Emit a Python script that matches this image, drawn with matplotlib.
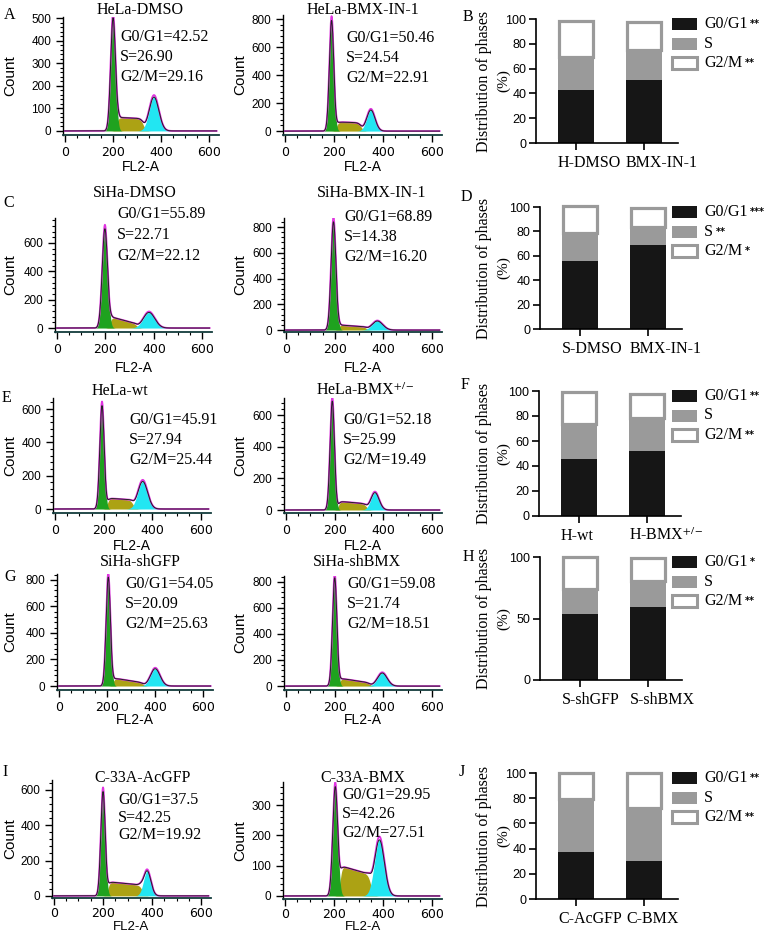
import numpy as np
import matplotlib
matplotlib.use('Agg')
import matplotlib.pyplot as plt
import matplotlib.transforms as mtransforms
from matplotlib.patches import Rectangle
from matplotlib.ticker import MultipleLocator, AutoMinorLocator

plt.rcParams['font.family'] = ['Liberation Sans', 'DejaVu Sans']
plt.rcParams['mathtext.fontset'] = 'stix'
SERIF = ['Liberation Serif', 'DejaVu Serif']

W, H = 778, 934

# --- data ---
samples = ['HeLa-DMSO', 'HeLa-BMX-IN-1', 'SiHa-DMSO', 'SiHa-BMX-IN-1',
           'HeLa-wt', r'HeLa-BMX$^{\mathrm{+/-}}$', 'SiHa-shGFP', 'SiHa-shBMX',
           'C-33A-AcGFP', 'C-33A-BMX']
g1_pct = ['42.52', '50.46', '55.89', '68.89', '45.91', '52.18', '54.05', '59.08', '37.5', '29.95']
s_pct = ['26.90', '24.54', '22.71', '14.38', '27.94', '25.99', '20.09', '21.74', '42.25', '42.26']
g2_pct = ['29.16', '22.91', '22.12', '16.20', '25.44', '19.49', '25.63', '18.51', '19.92', '27.51']

# peak fits (FL2-A channel, counts) estimated from the histograms
g1_mu = [200, 190, 198, 195, 193, 190, 205, 200, 200, 205]
g1_h = [500, 790, 700, 840, 620, 690, 820, 830, 590, 360]
g1_sd = [10, 9, 11, 10, 9, 9, 9, 9, 9, 10]
s_lo = [215, 210, 220, 215, 215, 215, 225, 220, 220, 225]
s_hi = [325, 310, 330, 330, 320, 330, 350, 345, 360, 350]
s_h0 = [60, 65, 80, 40, 65, 55, 60, 60, 80, 100]
s_h1 = [55, 60, 30, 25, 55, 40, 25, 25, 60, 70]
g2_mu = [370, 350, 380, 375, 360, 365, 400, 395, 380, 385]
g2_h = [150, 150, 110, 70, 165, 110, 130, 100, 140, 185]
g2_sd = [20, 17, 24, 22, 20, 17, 20, 20, 15, 20]

bar_labels = [['H-DMSO', 'BMX-IN-1'], ['S-DMSO', 'BMX-IN-1'], ['H-wt', r'H-BMX$^{\mathrm{+/-}}$'],
              ['S-shGFP', 'S-shBMX'], ['C-AcGFP', 'C-BMX']]
sig_g1 = ['**', '***', '**', '*', '**']
sig_s = ['', '**', '', '', '']
sig_g2 = ['**', '*', '**', '**', '**']

GREEN = '#1fa21f'
OLIVE = '#aca214'
CYAN = '#22e6f2'
MAGENTA = '#e033e0'

fig = plt.figure(figsize=(W / 100, H / 100), dpi=100)


def add_ax(l, r, t, b):
    return fig.add_axes([l / W, 1 - b / H, (r - l) / W, (b - t) / H])


def ftext(x, y, s, **kw):
    return fig.text(x / W, 1 - y / H, s, **kw)


# hist layout: box(l, r, t, b), ylim, ystep, text(x, y, dy), title(x, y)
hist_box = [(63, 219, 17, 135), (283, 442, 15, 135), (55, 212, 218, 332), (284, 442, 218, 332),
            (53, 211, 398, 513), (284, 442, 398, 513), (57, 213, 574, 690), (284, 442, 576, 690),
            (52, 211, 780, 898), (283, 442, 782, 899)]
hist_ylim = [(-18, 505), (-28, 830), (-28, 776), (-15, 870), (-24, 666), (-19, 710),
             (-30, 844), (-30, 844), (-12, 656), (-10, 376)]
hist_ystep = [100, 200, 200, 200, 200, 200, 200, 200, 200, 100]
xlab_off = [32, 32, 36, 36, 33, 33, 30, 30, 29, 28]
xtick_pad = [3, 3, 3, 3, 3, 3, 3, 3, 1.5, 1.5]
txt_pos = [(120, 37, 20), (346, 38, 20), (117, 214, 21), (344, 217, 20), (129, 420, 20),
           (343, 420, 20), (125, 584, 20), (347, 584, 20), (118, 800, 17.5), (342, 795, 19)]
title_pos = [(140, 10), (363, 10), (135, 193), (372, 193), (120, 391), (365, 391),
             (140, 562), (357, 562), (143, 778), (363, 778)]

x = np.linspace(0, 630, 1400)
for i in range(10):
    l, r, t, b = hist_box[i]
    ax = add_ax(l, r, t, b)
    g1 = g1_h[i] * np.exp(-0.5 * ((x - g1_mu[i]) / g1_sd[i]) ** 2)
    ramp = s_h0[i] + (s_h1[i] - s_h0[i]) * np.clip((x - s_lo[i]) / (s_hi[i] - s_lo[i]), 0, 1)
    s = ramp * 0.25 * (1 + np.tanh((x - s_lo[i]) / 8)) * (1 - np.tanh((x - s_hi[i]) / 12))
    g2 = g2_h[i] * np.exp(-0.5 * ((x - g2_mu[i]) / g2_sd[i]) ** 2)
    total = g1 + s + g2
    ax.fill_between(x, 0, s, color=OLIVE, lw=0)
    ax.fill_between(x, 0, g2, color=CYAN, lw=0)
    ax.fill_between(x, 0, g1, color=GREEN, lw=0)
    ax.plot(x, total + 0.04 * g1 + 0.06 * g2, color=MAGENTA, lw=1.3)
    ax.plot(x, total, color='#222222', lw=0.7)
    ax.set_xlim(-8, 640)
    ax.set_ylim(*hist_ylim[i])
    for sp in ['top', 'right']:
        ax.spines[sp].set_visible(False)
    ax.spines['left'].set_linewidth(1.0)
    ax.spines['bottom'].set_linewidth(1.3)
    ax.spines['bottom'].set_color('#123c3c')
    ax.set_xticks([0, 200, 400, 600])
    ax.xaxis.set_minor_locator(MultipleLocator(50))
    ax.yaxis.set_major_locator(MultipleLocator(hist_ystep[i]))
    ax.yaxis.set_minor_locator(AutoMinorLocator(5))
    ax.tick_params(axis='both', which='major', length=5, width=1, labelsize=8.5, direction='out')
    ax.tick_params(axis='both', which='minor', length=2.5, width=0.8, direction='out')
    ax.tick_params(axis='x', pad=xtick_pad[i])
    for lab in ax.get_xticklabels():
        lab.set_family(['DejaVu Sans'])
        lab.set_fontsize(9)
    ax.set_yticks([v for v in ax.get_yticks() if v >= 0 and v <= hist_ylim[i][1]])
    ax.set_xlabel('FL2-A', fontsize=10 if i < 8 else 9.5)
    ax.xaxis.set_label_coords(0.5, -xlab_off[i] / (b - t))
    ax.xaxis.label.set_va('center')
    ax.set_ylabel('Count', fontsize=11)
    cx = 10 if i % 2 == 0 else 240
    ax.yaxis.set_label_coords((cx - l) / (r - l), 0.5)
    ax.yaxis.label.set_rotation_mode('default')
    ax.yaxis.label.set_va('center')
    tx, ty, dy = txt_pos[i]
    for k, s_txt in enumerate(['G0/G1=' + g1_pct[i], 'S=' + s_pct[i], 'G2/M=' + g2_pct[i]]):
        ftext(tx, ty + k * dy, s_txt, family=SERIF, fontsize=11.5, ha='left', va='center')
    ftext(title_pos[i][0], title_pos[i][1], samples[i], family=SERIF, fontsize=11.5,
          ha='center', va='center')

# bar panels
bar_box = [(536, 678, 19, 143), (540, 682, 207, 329), (539, 681, 391, 516),
           (540, 682, 557, 680), (536, 678, 773, 899)]
bar_yticks = [[0, 20, 40, 60, 80, 100]] * 3 + [[0, 50, 100]] + [[0, 20, 40, 60, 80, 100]]
for j in range(5):
    l, r, t, b = bar_box[j]
    ax = add_ax(l, r, t, b)
    pos = np.array([0, 1])
    v1 = np.array([float(g1_pct[2 * j]), float(g1_pct[2 * j + 1])])
    v2 = np.array([float(s_pct[2 * j]), float(s_pct[2 * j + 1])])
    v3 = np.array([float(g2_pct[2 * j]), float(g2_pct[2 * j + 1])])
    wd = 0.53
    ax.bar(pos, v1, width=wd, color='#161616', lw=0)
    ax.bar(pos, v2, bottom=v1, width=wd, color='#9a9a9a', lw=0)
    ax.bar(pos, v3, bottom=v1 + v2, width=wd - 0.03, color='white', edgecolor='#9a9a9a',
           lw=2.3, clip_on=False)
    ax.set_xlim(-0.59, 1.5)
    ax.set_ylim(0, 100)
    for sp in ['top', 'right']:
        ax.spines[sp].set_visible(False)
    ax.spines['left'].set_linewidth(1.2)
    ax.spines['bottom'].set_linewidth(1.2)
    ax.set_yticks(bar_yticks[j])
    ax.set_xticks(pos)
    ax.set_xticklabels(['', ''])
    ax.tick_params(axis='both', length=5, width=1.2, labelsize=9, direction='out')
    ax.tick_params(axis='y', pad=2)
    # group labels sit left-aligned under each bar
    trans = mtransforms.blended_transform_factory(ax.transData, ax.transAxes)
    for p, lab in zip(pos, bar_labels[j]):
        ax.annotate(lab, xy=(p - wd / 2, 0), xycoords=trans, xytext=(0, -20),
                    textcoords='offset pixels', ha='left', va='center',
                    family=SERIF, fontsize=11.5, annotation_clip=False)
    cy = (t + b) / 2
    ftext(484, cy, 'Distribution of phases', family=SERIF, fontsize=11.5, rotation=90,
          ha='center', va='center')
    ftext(504, cy, '(%)', family=SERIF, fontsize=11, rotation=90, ha='center', va='center')
    # legend
    styles = [('#161616', '#161616'), ('#9a9a9a', '#9a9a9a'), ('white', '#9a9a9a')]
    names = ['G0/G1', 'S', 'G2/M']
    sigs = [sig_g1[j], sig_s[j], sig_g2[j]]
    for k in range(3):
        ry = t + 5 + 19.5 * k
        fig.patches.append(Rectangle((672 / W, 1 - (ry + 6) / H), 25 / W, 12 / H,
                                     facecolor=styles[k][0], edgecolor=styles[k][1],
                                     lw=2.2 if k == 2 else 0, transform=fig.transFigure))
        tt = ftext(704, ry, names[k], family=SERIF, fontsize=11.5, ha='left', va='center')
        if sigs[k]:
            ax.annotate(sigs[k], xy=(1, 0.5), xycoords=tt, xytext=(2, 0),
                        textcoords='offset points', ha='left', va='center',
                        fontsize=7, family=['DejaVu Sans'], weight='bold',
                        annotation_clip=False)

# panel letters
letters = ['A', 'B', 'C', 'D', 'E', 'F', 'G', 'H', 'I', 'J']
letter_pos = [(4, 15), (463, 17), (3, 203), (461, 197), (2, 398), (461, 385), (4, 577),
              (463, 557), (2, 772), (459, 772)]
for s_l, (lx, ly) in zip(letters, letter_pos):
    ftext(lx, ly, s_l, family=SERIF, fontsize=11.5, ha='left', va='center')

fig.savefig('out.png', dpi=100)
